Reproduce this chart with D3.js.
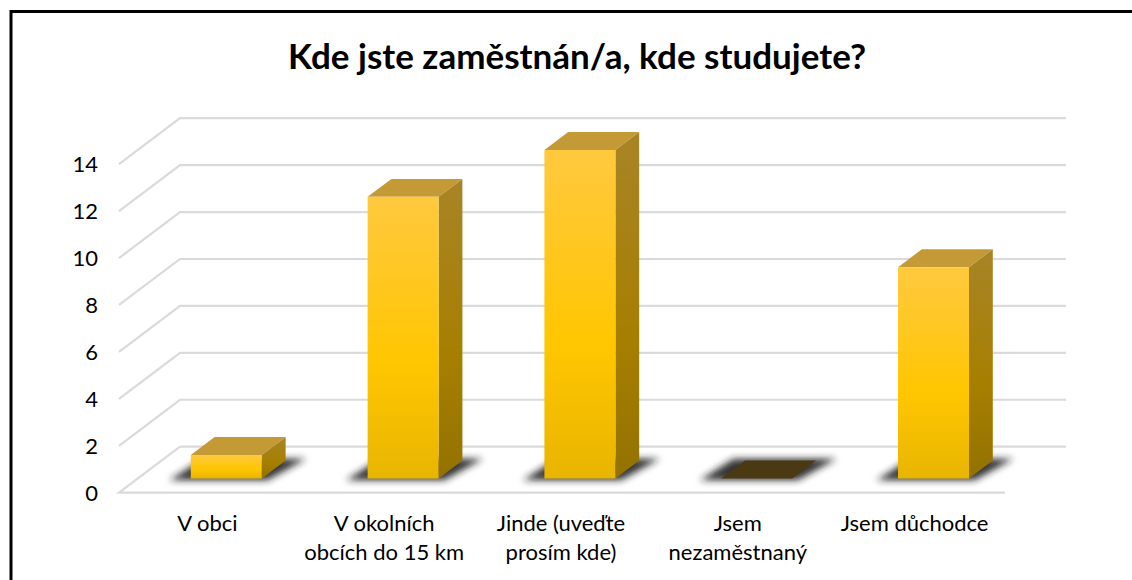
<!DOCTYPE html>
<html>

<head>
  <title>Kde jste zaměstnán/a</title>
  <meta charset="utf-8" />
  <script src="https://d3js.org/d3.v7.min.js"></script>
  <style>
    html, body { margin: 0; padding: 0; background: #fff; overflow: hidden; }
    svg { display: block; }
    text { font-family: Lato, "Open Sans", sans-serif; fill: #000; }
  </style>
</head>

<body>
  <div id="chart"></div>
  <script>
    const categories = ["V obci", "V okolních obcích do 15 km", "Jinde (uveďte prosím kde)", "Jsem nezaměstnaný", "Jsem důchodce"];
    const categoryLines = [["V obci"], ["V okolních", "obcích do 15 km"], ["Jinde (uveďte", "prosím kde)"], ["Jsem", "nezaměstnaný"], ["Jsem důchodce"]];
    const values = [1, 12, 14, 0, 9];
    const yTicks = [0, 2, 4, 6, 8, 10, 12, 14];
    const title = "Kde jste zaměstnán/a, kde studujete?";

    const width = 1132;
    const height = 580;

    const svg = d3.select("#chart").append("svg")
      .attr("width", width)
      .attr("height", height);

    const defs = svg.append("defs");

    const frontGrad = defs.append("linearGradient").attr("id", "front")
      .attr("x1", 0).attr("y1", 0).attr("x2", 0).attr("y2", 1);
    frontGrad.append("stop").attr("offset", "0%").attr("stop-color", "#ffc93f");
    frontGrad.append("stop").attr("offset", "60%").attr("stop-color", "#ffc600");
    frontGrad.append("stop").attr("offset", "100%").attr("stop-color", "#e8b500");

    const sideGrad = defs.append("linearGradient").attr("id", "side")
      .attr("x1", 0).attr("y1", 0).attr("x2", 0).attr("y2", 1);
    sideGrad.append("stop").attr("offset", "0%").attr("stop-color", "#a88426");
    sideGrad.append("stop").attr("offset", "60%").attr("stop-color", "#a67f00");
    sideGrad.append("stop").attr("offset", "100%").attr("stop-color", "#937200");

    defs.append("filter").attr("id", "blur")
      .attr("x", "-30%").attr("y", "-80%").attr("width", "160%").attr("height", "260%")
      .append("feGaussianBlur").attr("stdDeviation", 3.6);

    // oblique projection: front floor edge plus a depth offset
    const floorX = [119, 1005];
    const x = d3.scaleBand().domain(categories).range([119, 1003]);
    const y = d3.scaleLinear().domain([0, 14]).range([492.7, 164.2]);
    const depth = { dx: 61, dy: -46 };
    const zBar = [0.31, 0.70];

    function project(px, value, z) {
      return [px + depth.dx * z, y(value) + depth.dy * z];
    }
    const line = d3.line();

    // back wall and side gridlines
    const grid = svg.append("g")
      .attr("fill", "none")
      .attr("stroke", "#dadada")
      .attr("stroke-width", 2.2);

    grid.selectAll("path")
      .data(yTicks)
      .enter().append("path")
      .attr("d", d => {
        const pts = [project(floorX[0], d, 0), project(floorX[0], d, 1), project(floorX[1], d, 1)];
        return line(d === 0 ? pts.slice(1) : pts);
      });

    // floor: left and front edge
    grid.append("path")
      .attr("d", line([project(floorX[0], 0, 1), project(floorX[0], 0, 0), project(floorX[1], 0, 0)]));

    const bars = svg.append("g").selectAll("g")
      .data(categories.map((c, i) => ({ c, v: values[i] })))
      .enter().append("g");

    const barLeft = d => x(d.c) + x.bandwidth() / 2 - 35.5;
    const barRight = d => x(d.c) + x.bandwidth() / 2 + 35.5;

    // shadow on the floor
    bars.append("path")
      .attr("fill", "#1c1c1c")
      .attr("fill-opacity", 0.9)
      .attr("filter", "url(#blur)")
      .attr("d", d => line([
        project(barLeft(d) - 19, 0, 0.27),
        project(barRight(d) + 8, 0, 0.27),
        project(barRight(d) + 18, 0, 0.74),
        project(barLeft(d) - 14, 0, 0.74)
      ]) + "Z");

    // top face
    bars.append("path")
      .attr("fill", d => d.v === 0 ? "#4a3913" : "#c39a36")
      .attr("d", d => line([
        project(barLeft(d), d.v, zBar[0]),
        project(barRight(d), d.v, zBar[0]),
        project(barRight(d), d.v, zBar[1]),
        project(barLeft(d), d.v, zBar[1])
      ]) + "Z");

    // right face
    bars.filter(d => d.v > 0).append("path")
      .attr("fill", "url(#side)")
      .attr("d", d => line([
        project(barRight(d), d.v, zBar[0]),
        project(barRight(d), d.v, zBar[1]),
        project(barRight(d), 0, zBar[1]),
        project(barRight(d), 0, zBar[0])
      ]) + "Z");

    // front face
    bars.filter(d => d.v > 0).append("path")
      .attr("fill", "url(#front)")
      .attr("d", d => line([
        project(barLeft(d), d.v, zBar[0]),
        project(barRight(d), d.v, zBar[0]),
        project(barRight(d), 0, zBar[0]),
        project(barLeft(d), 0, zBar[0])
      ]) + "Z");

    // y axis labels
    const yAxis = svg.append("g")
      .attr("transform", "translate(103,0.5)")
      .call(d3.axisLeft(y).tickValues(yTicks).tickSize(0).tickPadding(5));
    yAxis.select(".domain").remove();
    yAxis.selectAll("text")
      .attr("font-size", 22)
      .style("font-family", "Lato, sans-serif");

    // category labels
    const labels = svg.append("g").selectAll("text")
      .data(categories)
      .enter().append("text")
      .attr("text-anchor", "middle")
      .attr("font-size", 22)
      .attr("y", 531);

    labels.selectAll("tspan")
      .data((d, i) => categoryLines[i].map(t => ({ t, c: d })))
      .enter().append("tspan")
      .attr("x", d => x(d.c) + x.bandwidth() / 2)
      .attr("dy", (d, i) => i === 0 ? 0 : 29)
      .text(d => d.t);

    svg.append("text")
      .attr("x", 577)
      .attr("y", 68.5)
      .attr("text-anchor", "middle")
      .attr("font-size", 35)
      .attr("font-weight", 700)
      .text(title);

    // chart frame: top and left only, the rest is cropped in the picture
    svg.append("path")
      .attr("fill", "none")
      .attr("stroke", "#000")
      .attr("stroke-width", 3)
      .attr("d", "M11,580V11.5H1132");
  </script>
</body>
</html>
